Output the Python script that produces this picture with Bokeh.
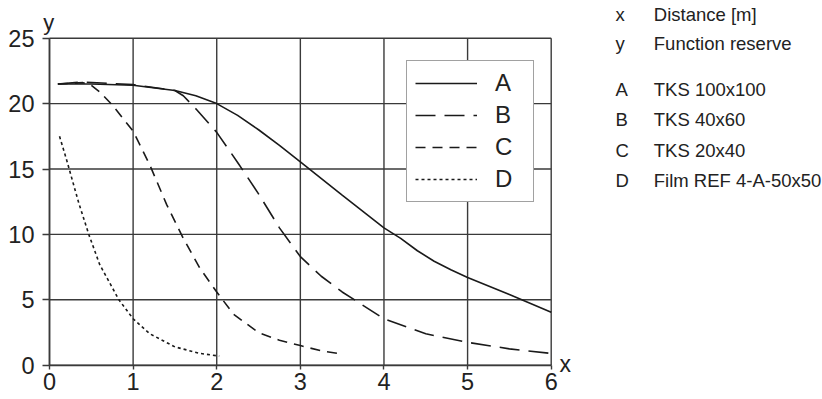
from bokeh.plotting import figure
from bokeh.models import Range1d, Legend, LegendItem, Label, FixedTicker
from bokeh.embed import file_html
from bokeh.resources import INLINE

# ---------------- data ----------------
a_x = [0.1, 0.5, 1.0, 1.5, 1.75, 2.0, 2.25, 2.5, 2.75, 3.0, 3.5, 4.0, 4.2, 4.4, 4.6, 4.8, 5.0, 5.5, 6.0]
a_y = [21.5, 21.5, 21.4, 21.0, 20.6, 20.0, 19.1, 18.0, 16.8, 15.55, 13.0, 10.5, 9.7, 8.75, 7.95, 7.3, 6.7, 5.4, 4.05]

b_x = [0.1, 0.4, 1.0, 1.5, 1.6, 1.75, 2.0, 2.25, 2.5, 2.75, 3.0, 3.25, 3.5, 4.0, 4.5, 5.0, 5.5, 6.0]
b_y = [21.5, 21.65, 21.45, 21.0, 20.6, 19.6, 17.8, 15.5, 13.1, 10.5, 8.3, 6.8, 5.6, 3.55, 2.4, 1.75, 1.25, 0.9]

c_x = [0.1, 0.4, 0.5, 0.6, 0.75, 1.0, 1.2, 1.4, 1.6, 1.8, 2.0, 2.2, 2.5, 2.75, 3.0, 3.25, 3.5]
c_y = [21.5, 21.6, 21.4, 20.9, 19.9, 17.9, 15.3, 12.3, 9.7, 7.4, 5.6, 3.9, 2.5, 1.9, 1.5, 1.1, 0.85]

d_x = [0.12, 0.2, 0.35, 0.47, 0.6, 0.83, 1.0, 1.2, 1.5, 1.8, 2.03]
d_y = [17.5, 15.8, 12.4, 10.0, 7.7, 5.0, 3.55, 2.4, 1.4, 0.9, 0.7]

series_names = ["A", "B", "C", "D"]
series_desc = ["TKS 100x100", "TKS 40x60", "TKS 20x40", "Film REF 4-A-50x50"]
axis_keys = ["x", "y"]
axis_desc = ["Distance [m]", "Function reserve"]

x_ticks = [0, 1, 2, 3, 4, 5, 6]
y_ticks = [0, 5, 10, 15, 20, 25]

# ---------------- layout (pixels) ----------------
W, H = 822, 399
PLOT_L, PLOT_R, PLOT_T, PLOT_B = 49.0, 550.7, 37.7, 364.7
xmin, xmax = x_ticks[0], x_ticks[-1]
ymin, ymax = y_ticks[0], y_ticks[-1]
sx = (PLOT_R - PLOT_L) / (xmax - xmin)
sy = (PLOT_B - PLOT_T) / (ymax - ymin)
x_range = Range1d(xmin - PLOT_L / sx, xmax + (W - PLOT_R) / sx)
y_range = Range1d(ymin - (H - PLOT_B) / sy, ymax + PLOT_T / sy)

FONT = "Liberation Sans"
INK = "#1a1a1a"
GRID = "#3a3a3a"
TXT = "#222222"

p = figure(width=W, height=H, output_backend="svg", toolbar_location=None,
           x_range=x_range, y_range=y_range, min_border=0)
p.background_fill_color = "white"
p.border_fill_color = "white"
p.outline_line_color = None
p.grid.visible = False

# axes fixed at the data origin, limited to the data area
p.xaxis.fixed_location = ymin
p.yaxis.fixed_location = xmin
p.xaxis.bounds = (xmin, xmax)
p.yaxis.bounds = (ymin, ymax)
for ax in (p.xaxis[0], p.yaxis[0]):
    ax.axis_line_color = GRID
    ax.axis_line_width = 1.6
    ax.major_tick_line_color = GRID
    ax.major_tick_line_width = 1.4
    ax.minor_tick_line_color = None
    ax.major_tick_in = 0
    ax.major_label_text_font = FONT
    ax.major_label_text_font_size = "23.5px"
    ax.major_label_text_color = TXT
p.xaxis.ticker = FixedTicker(ticks=x_ticks)
p.yaxis.ticker = FixedTicker(ticks=y_ticks)
p.xaxis.major_tick_out = 4
p.yaxis.major_tick_out = 7
p.xaxis.major_label_standoff = 4
p.yaxis.major_label_standoff = 8

# grid lines (also forming the frame) from the tick lists
p.segment(x0=x_ticks, y0=[ymin] * len(x_ticks), x1=x_ticks, y1=[ymax] * len(x_ticks),
          line_color=GRID, line_width=1.4)
p.segment(x0=[xmin] * len(y_ticks), y0=y_ticks, x1=[xmax] * len(y_ticks), y1=y_ticks,
          line_color=GRID, line_width=1.4)

ra = p.line(a_x, a_y, line_color=INK, line_width=1.6)
rb = p.line(b_x, b_y, line_color=INK, line_width=1.6, line_dash="20 9")
rc = p.line(c_x, c_y, line_color=INK, line_width=1.6, line_dash="10 7")
rd = p.line(d_x, d_y, line_color=INK, line_width=1.6, line_dash="3 3")

legend = Legend(items=[LegendItem(label=n, renderers=[r]) for n, r in zip(series_names, [ra, rb, rc, rd])],
                location=(406, 197), orientation="vertical",
                label_text_font=FONT, label_text_font_size="24px", label_text_color=TXT,
                glyph_width=62, glyph_height=14, label_height=14, label_width=30,
                label_standoff=18, spacing=4, padding=8, margin=0,
                border_line_color="#444444", border_line_width=1.6,
                background_fill_color="white", background_fill_alpha=1.0)
p.add_layout(legend, "center")

# axis names
p.add_layout(Label(x=xmin, y=ymax, text="y", x_offset=-6.3, y_offset=16,
                   text_font=FONT, text_font_size="22px", text_color=TXT,
                   text_baseline="alphabetic", text_align="left"))
p.add_layout(Label(x=xmax, y=ymin, text="x", x_offset=8.3, y_offset=1,
                   text_font=FONT, text_font_size="23px", text_color=TXT,
                   text_baseline="alphabetic", text_align="left"))

# key on the right, anchored at the top-right corner of the data area
keys = axis_keys + series_names
descs = axis_desc + series_desc
row_offsets = [24.0, -5.3, -51.3, -81.3, -111.8, -141.8]
for key, desc, oy in zip(keys, descs, row_offsets):
    p.add_layout(Label(x=xmax, y=ymax, text=key, x_offset=64.3, y_offset=oy,
                       text_font=FONT, text_font_size="18.5px", text_color=TXT,
                       text_baseline="alphabetic", text_align="left"))
    p.add_layout(Label(x=xmax, y=ymax, text=desc, x_offset=102.6, y_offset=oy,
                       text_font=FONT, text_font_size="18.5px", text_color=TXT,
                       text_baseline="alphabetic", text_align="left"))

open("out.html", "w").write(file_html(p, INLINE))
